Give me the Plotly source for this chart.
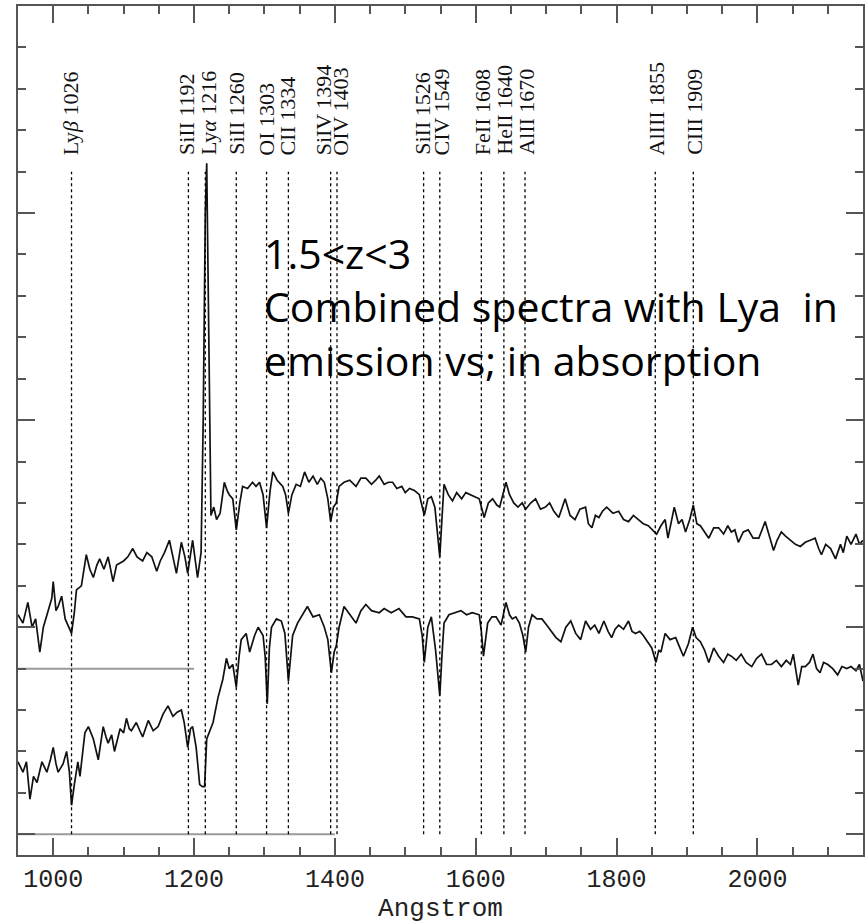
import plotly.graph_objects as go

# composite spectra, flux in arbitrary units (upper offset by +4)
upper_wave = [950, 957, 964, 970, 975, 981, 986, 991, 998, 1000, 1004, 1007, 1012, 1017, 1021, 1026,
              1030, 1033, 1040, 1047, 1052, 1057, 1062, 1066, 1072, 1078, 1085, 1090, 1095, 1100,
              1106, 1113, 1119, 1127, 1133, 1140, 1147, 1152, 1158, 1165, 1170, 1175, 1182, 1187,
              1191, 1198, 1205, 1210, 1213, 1216, 1218, 1220, 1222, 1224, 1228, 1232, 1237, 1243,
              1247, 1250, 1255, 1260, 1265, 1269, 1276, 1283, 1288, 1293, 1298, 1303, 1308, 1312,
              1318, 1326, 1330, 1334, 1339, 1345, 1351, 1357, 1363, 1369, 1375, 1380, 1385, 1390,
              1394, 1398, 1402, 1406, 1413, 1421, 1430, 1437, 1444, 1452, 1458, 1463, 1470, 1476,
              1482, 1488, 1495, 1500, 1506, 1513, 1520, 1527, 1532, 1537, 1542, 1549, 1552, 1555,
              1561, 1567, 1573, 1580, 1586, 1592, 1598, 1605, 1612, 1618, 1624, 1630, 1634, 1643,
              1648, 1654, 1660, 1666, 1671, 1678, 1685, 1692, 1699, 1705, 1711, 1718, 1727, 1734,
              1741, 1748, 1756, 1760, 1765, 1770, 1775, 1780, 1786, 1795, 1803, 1810, 1817, 1824,
              1831, 1838, 1845, 1851, 1857, 1863, 1869, 1873, 1878, 1882, 1888, 1893, 1898, 1904,
              1909, 1914, 1919, 1925, 1931, 1938, 1945, 1952, 1958, 1963, 1968, 1973, 1980, 1987,
              1994, 2002, 2007, 2011, 2017, 2023, 2028, 2034, 2040, 2047, 2054, 2061, 2068, 2075,
              2082, 2087, 2091, 2097, 2104, 2111, 2118, 2122, 2127, 2133, 2140, 2145, 2150]
upper_flux = [5.3, 5.1, 5.6, 5.0, 5.2, 4.4, 5.0, 5.3, 5.7, 6.1, 5.4, 5.5, 5.75, 5.2, 5.05, 4.85,
              5.35, 5.9, 6.0, 6.75, 6.4, 6.2, 6.5, 6.65, 6.4, 6.7, 6.1, 6.5, 6.55, 6.6,
              6.7, 6.9, 6.7, 6.6, 6.8, 6.7, 6.35, 6.6, 6.8, 7.1, 6.7, 6.3, 7.05, 6.7,
              6.3, 7.1, 6.2, 6.8, 10.0, 15.0, 16.2, 13.0, 9.5, 7.7, 7.9, 7.6, 7.75, 8.5,
              8.3, 8.2, 8.1, 7.35, 8.0, 8.4, 8.35, 8.5, 8.4, 8.5, 8.2, 7.4, 8.3, 8.75,
              8.55, 8.4, 8.2, 7.75, 8.2, 8.45, 8.4, 8.75, 8.5, 8.65, 8.45, 8.6, 8.5, 8.1,
              7.55, 7.9, 8.0, 8.4, 8.5, 8.55, 8.4, 8.6, 8.6, 8.45, 8.55, 8.65, 8.45, 8.5,
              8.5, 8.35, 8.4, 8.25, 8.35, 8.3, 8.2, 7.7, 8.1, 8.15, 7.9, 6.7, 7.6, 8.45,
              8.2, 8.05, 8.25, 8.1, 8.25, 8.2, 8.15, 8.1, 7.65, 8.0, 8.1, 7.95, 7.9, 8.5,
              8.2, 8.0, 7.9, 8.0, 7.85, 8.0, 8.1, 7.85, 7.9, 8.0, 7.8, 7.65, 8.1, 7.7,
              7.6, 7.85, 7.9, 7.5, 7.4, 7.7, 7.65, 7.8, 7.9, 7.75, 7.8, 7.6, 7.55, 7.7,
              7.6, 7.5, 7.45, 7.35, 7.25, 7.45, 7.6, 7.15, 7.6, 7.9, 7.5, 7.6, 7.3, 7.6,
              7.95, 7.5, 7.45, 7.3, 7.15, 7.4, 7.4, 7.25, 7.45, 7.3, 7.35, 7.05, 7.3, 7.35,
              7.15, 7.15, 7.35, 7.55, 7.2, 6.85, 7.1, 7.3, 7.2, 7.1, 7.0, 6.95, 7.05, 7.1,
              7.15, 6.9, 6.75, 7.0, 6.9, 6.65, 7.0, 6.8, 7.2, 7.0, 7.25, 7.0, 7.1]

lower_wave = [950, 957, 962, 967, 972, 977, 984, 991, 996, 1000, 1004, 1007, 1014, 1019, 1023, 1026,
              1030, 1035, 1038, 1045, 1050, 1054, 1057, 1064, 1071, 1075, 1078, 1083, 1087, 1095,
              1100, 1104, 1108, 1111, 1118, 1123, 1127, 1135, 1142, 1149, 1156, 1163, 1170, 1176,
              1182, 1186, 1191, 1195, 1198, 1203, 1208, 1212, 1215, 1218, 1222, 1227, 1234, 1241,
              1246, 1250, 1255, 1260, 1264, 1267, 1274, 1279, 1286, 1291, 1298, 1301, 1304, 1307,
              1310, 1317, 1324, 1329, 1334, 1340, 1347, 1354, 1361, 1369, 1378, 1385, 1390, 1395,
              1399, 1402, 1406, 1413, 1421, 1430, 1437, 1444, 1452, 1463, 1470, 1480, 1491, 1501,
              1510, 1520, 1524, 1527, 1532, 1537, 1543, 1549, 1552, 1555, 1562, 1570, 1579, 1587,
              1595, 1605, 1608, 1611, 1617, 1623, 1629, 1636, 1643, 1648, 1652, 1657, 1662, 1667,
              1671, 1675, 1680, 1687, 1694, 1701, 1708, 1714, 1721, 1728, 1735, 1742, 1749, 1756,
              1763, 1769, 1775, 1782, 1788, 1793, 1798, 1803, 1810, 1817, 1822, 1827, 1833, 1838,
              1844, 1850, 1856, 1860, 1863, 1869, 1876, 1884, 1890, 1895, 1902, 1908, 1913, 1919,
              1925, 1931, 1938, 1945, 1952, 1958, 1963, 1970, 1977, 1984, 1992, 1999, 2006, 2013,
              2020, 2027, 2034, 2041, 2047, 2051, 2058, 2063, 2068, 2074, 2079, 2084, 2089, 2094,
              2100, 2107, 2114, 2120, 2127, 2133, 2140, 2145, 2150]
lower_flux = [1.75, 1.5, 1.75, 0.85, 1.4, 1.25, 1.75, 1.5, 1.8, 2.1, 1.7, 1.5, 1.7, 2.0, 1.5, 0.7,
              1.2, 1.75, 1.4, 2.45, 2.6, 2.45, 2.3, 1.8, 2.6, 2.35, 2.2, 2.4, 2.0, 2.55,
              2.45, 2.8, 2.55, 2.5, 2.7, 2.5, 2.35, 2.75, 2.5, 2.6, 2.9, 3.1, 2.85, 2.95,
              3.0, 2.7, 2.1, 2.55, 2.6, 2.1, 1.2, 1.15, 1.15, 2.3, 2.5, 2.7, 3.3, 3.75,
              4.25, 4.0, 4.1, 3.55, 4.3, 4.7, 4.85, 4.4, 4.8, 5.0, 4.8, 4.3, 3.15, 4.5,
              5.0, 5.2, 5.15, 4.85, 3.7, 4.8, 5.1, 5.3, 5.5, 5.25, 5.3, 5.0, 4.7, 3.9,
              4.4, 4.55, 5.0, 5.5, 5.3, 5.1, 5.4, 5.55, 5.4, 5.35, 5.45, 5.35, 5.45, 5.25,
              5.25, 5.2, 4.8, 4.15, 5.0, 5.25, 4.45, 3.35, 4.3, 5.1, 5.3, 5.35, 5.4, 5.3,
              5.35, 5.3, 4.9, 4.3, 5.1, 5.25, 5.25, 5.05, 5.6, 5.3, 5.2, 5.25, 5.1, 4.8,
              4.4, 5.0, 5.3, 5.2, 5.2, 5.05, 4.9, 4.75, 4.65, 5.0, 5.15, 4.85, 4.7, 5.15,
              4.95, 5.05, 4.85, 5.15, 4.9, 4.75, 4.95, 5.05, 4.95, 5.15, 4.9, 4.85, 4.9, 4.8,
              4.65, 4.5, 4.15, 4.45, 4.4, 4.85, 4.7, 4.75, 4.5, 4.3, 4.6, 5.0, 4.75, 4.65,
              4.45, 4.15, 4.5, 4.3, 4.15, 4.35, 4.3, 4.2, 4.35, 4.15, 4.05, 4.25, 4.35, 4.1,
              4.1, 4.2, 4.05, 4.2, 4.1, 4.35, 3.6, 4.05, 4.05, 4.15, 4.35, 4.0, 3.9, 4.15,
              4.1, 4.0, 3.85, 4.05, 4.0, 4.05, 3.95, 4.1, 3.7]

# zero levels of the two spectra
upper_zero_wave = [950, 1200]
upper_zero_flux = [4, 4]
lower_zero_wave = [950, 1400]
lower_zero_flux = [0, 0]

# identified lines
line_waves = [1026, 1192, 1216, 1260, 1303, 1334, 1394, 1403, 1526, 1549, 1608, 1640, 1670, 1855, 1909]
line_ions = ["Ly<i>β</i>", "SiII", "Ly<i>α</i>", "SiII", "OI", "CII", "SiIV", "OIV", "SiII",
             "CIV", "FeII", "HeII", "AlII", "AlIII", "CIII"]
line_top = 16
label_shift = [-1.5, -2.5, 2.5, 0.8, 0.4, -0.5, -7, 3.5, -0.5, 2, 0.7, 0.7, 0.7, 1.5, 0.4]

note_lines = ["1.5<z<3", "Combined spectra with Lya  in", "emission vs; in absorption"]

fig = go.Figure()

fig.add_trace(go.Scatter(x=upper_zero_wave, y=upper_zero_flux, mode="lines",
                         line=dict(color="#9a9a9a", width=2), hoverinfo="skip"))
fig.add_trace(go.Scatter(x=lower_zero_wave, y=lower_zero_flux, mode="lines",
                         line=dict(color="#9a9a9a", width=2), hoverinfo="skip"))

for w, ion, dx in zip(line_waves, line_ions, label_shift):
    fig.add_shape(type="line", x0=w, x1=w, y0=0, y1=line_top,
                  line=dict(color="black", width=1.3, dash="3px,3px"))
    fig.add_annotation(x=w, y=line_top + 0.35, text=f"{ion} {w}", textangle=-90,
                       showarrow=False, xanchor="center", yanchor="bottom", xshift=dx,
                       font=dict(family="Liberation Serif", size=22, color="#111"))

fig.add_trace(go.Scatter(x=upper_wave, y=upper_flux, mode="lines",
                         line=dict(color="#111", width=1.7), name="Lya emission"))
fig.add_trace(go.Scatter(x=lower_wave, y=lower_flux, mode="lines",
                         line=dict(color="#111", width=1.7), name="Lya absorption"))

# slide note typed over the figure
fig.add_annotation(x=1297, y=12.75, text="<br>".join(note_lines), showarrow=False,
                   xanchor="left", yanchor="middle", align="left",
                   font=dict(family="Open Sans", size=41, color="black"))

axis_common = dict(showline=True, linecolor="#555", linewidth=1.5, mirror="allticks",
                   ticks="inside", tickcolor="#555", tickwidth=1.5, ticklen=17,
                   showgrid=False, zeroline=False)

fig.update_xaxes(range=[950, 2150], dtick=200, tick0=1000,
                 minor=dict(dtick=50, ticks="inside", ticklen=8, tickcolor="#555", tickwidth=1.5),
                 tickfont=dict(family="Liberation Mono", size=25, color="#222"),
                 ticklabelstandoff=0,
                 title=dict(text="Angstrom", standoff=5,
                            font=dict(family="Liberation Mono", size=26, color="#222")),
                 **axis_common)
fig.update_yaxes(range=[-0.5, 20], dtick=5, tick0=0, showticklabels=False,
                 minor=dict(dtick=1, ticks="inside", ticklen=8, tickcolor="#555", tickwidth=1.5),
                 **axis_common)

fig.update_layout(width=865, height=924, showlegend=False,
                  margin=dict(l=18, r=0, t=6, b=69),
                  plot_bgcolor="white", paper_bgcolor="white")

fig.write_html("out.html", config={"displayModeBar": False},
               post_script="document.body.style.margin='0';")
